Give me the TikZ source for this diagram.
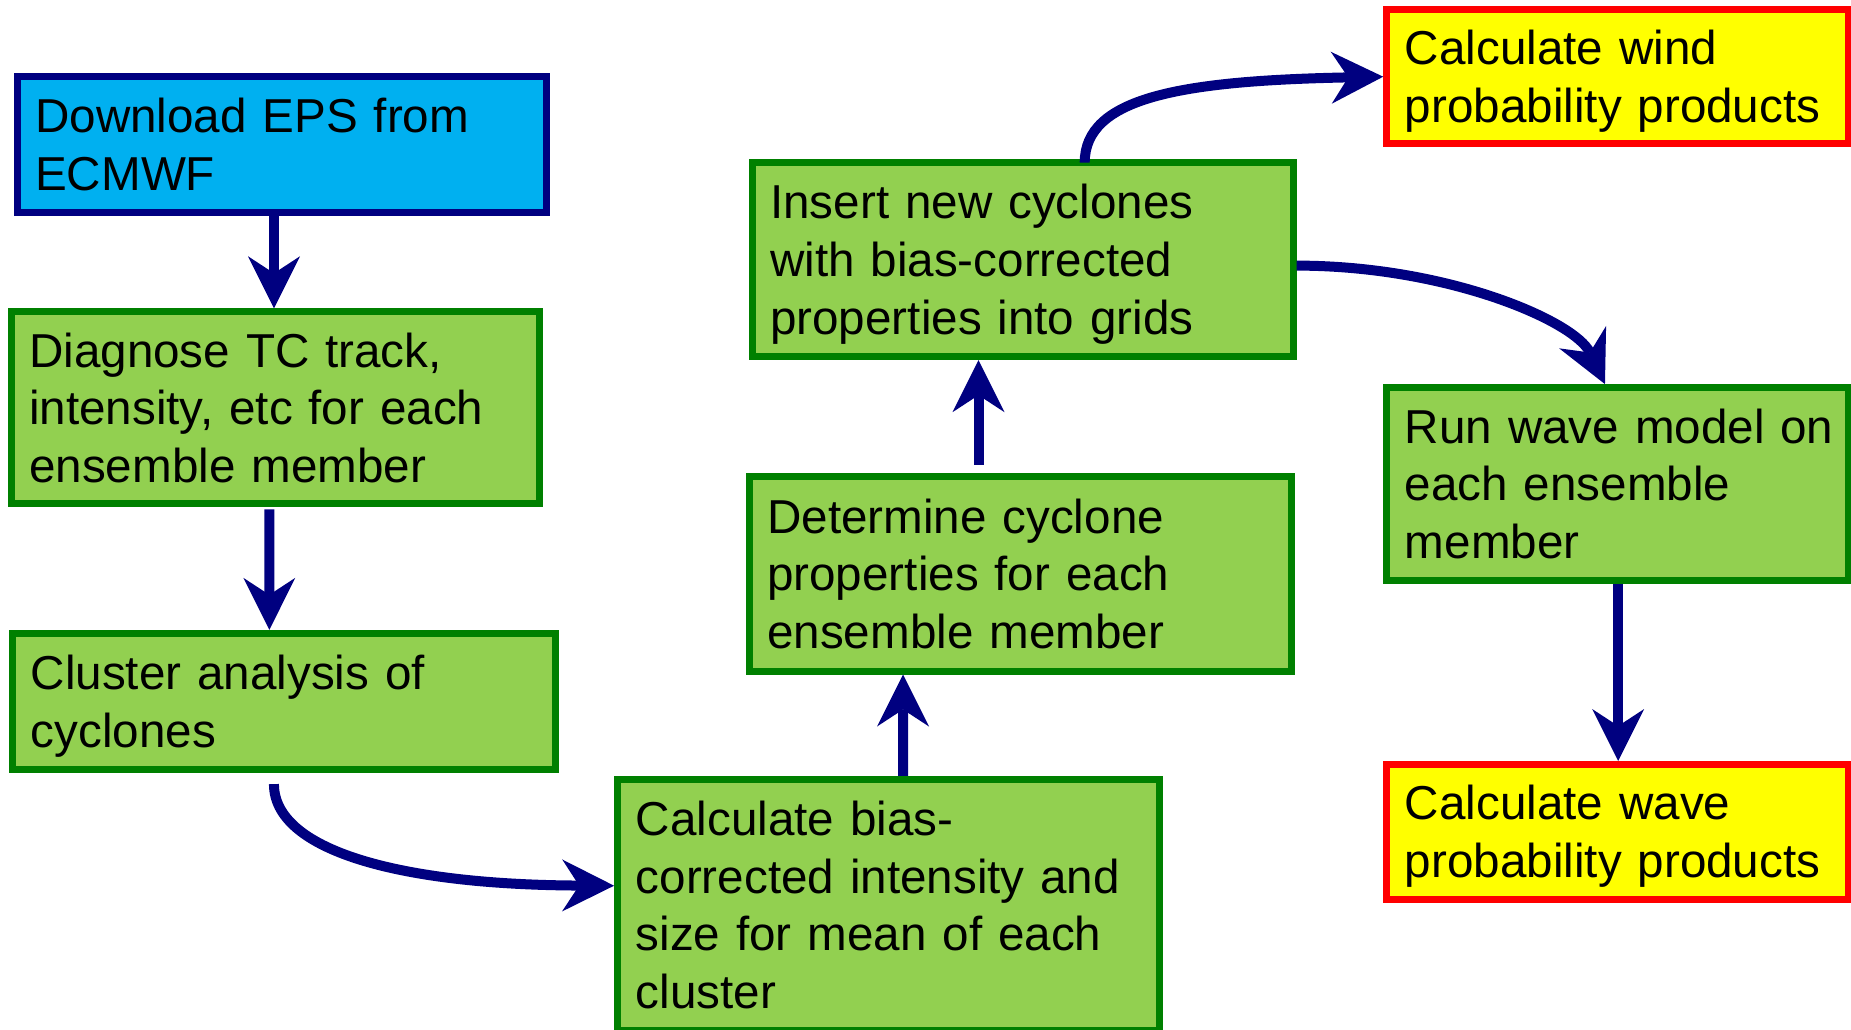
\documentclass[tikz,border=0pt]{standalone}
\usepackage{fontspec}
\setmainfont{Liberation Sans}
\usetikzlibrary{arrows.meta}
\definecolor{navyc}{HTML}{000080}
\definecolor{cyanc}{HTML}{00B0F0}
\definecolor{greenf}{HTML}{92D050}
\definecolor{greenb}{HTML}{008000}
\definecolor{yellowf}{HTML}{FFFF00}
\definecolor{redb}{HTML}{FF0000}
\begin{document}
\begin{tikzpicture}[x=0.5pt,y=-0.5pt,
  box/.style={draw, line width=3.5pt, rectangle, inner xsep=9.1pt, inner ysep=0pt,
    align=left, font=\fontsize{23.8}{28.9}\selectfont, text height=17pt, anchor=center},
  bluebox/.style={box, draw=navyc, fill=cyanc},
  greenbox/.style={box, draw=greenb, fill=greenf},
  yellowbox/.style={box, draw=redb, fill=yellowf},
  ltwo/.style={text depth=28.9pt},
  lthree/.style={text depth=57.8pt},
  lfour/.style={text depth=86.7pt},
  arr/.style={draw=navyc, line width=5pt,
    -{Stealth[length=26pt, width=26pt, inset=8.5pt, line width=0pt]}}
]
\useasboundingbox (0,0) rectangle (1851,1029);

\node[bluebox, ltwo, minimum width=264.75pt, minimum height=68.15pt, text width=246.55pt]
  (dl) at (281.8,144.8) {\mbox{Download EPS from}\\ECMWF};
\node[greenbox, lthree, minimum width=264.3pt, minimum height=96.05pt, text width=246.1pt]
  (diag) at (275.3,407.8) {\mbox{Diagnose TC track,}\\\mbox{intensity, etc for each}\\\mbox{ensemble member}};
\node[greenbox, ltwo, minimum width=271.25pt, minimum height=68.05pt, text width=253.05pt]
  (clus) at (283.75,701.35) {\mbox{Cluster analysis of}\\cyclones};
\node[greenbox, lfour, minimum width=271.1pt, minimum height=125.7pt, text width=252.9pt]
  (bias) at (888.7,905) {\mbox{Calculate bias-}\\\mbox{corrected intensity and}\\\mbox{size for mean of each}\\cluster};
\node[greenbox, lthree, minimum width=271pt, minimum height=97.2pt, text width=252.8pt]
  (det) at (1020,573.8) {\mbox{Determine cyclone}\\\mbox{properties for each}\\\mbox{ensemble member}};
\node[greenbox, lthree, minimum width=270.5pt, minimum height=97.2pt, text width=252.3pt]
  (ins) at (1022.5,259.5) {\mbox{Insert new cyclones}\\\mbox{with bias-corrected}\\\mbox{properties into grids}};
\node[yellowbox, ltwo, minimum width=230.65pt, minimum height=67.2pt, text width=212.45pt]
  (wind) at (1617.35,76.7) {\mbox{Calculate wind}\\\mbox{probability products}};
\node[greenbox, lthree, minimum width=230.65pt, minimum height=96.2pt, text width=212.45pt]
  (run) at (1617.35,483.8) {\mbox{Run wave model on}\\\mbox{each ensemble}\\member};
\node[yellowbox, ltwo, minimum width=230.65pt, minimum height=67.25pt, text width=212.45pt]
  (wave) at (1617.35,831.75) {\mbox{Calculate wave}\\\mbox{probability products}};

\draw[arr] ([xshift=-3.9pt]dl.south) -- ([xshift=-0.65pt]diag.north);
\draw[arr] ([xshift=-3pt,yshift=-1pt]diag.south) -- ([xshift=-7.2pt]clus.north);
\draw[arr] ([xshift=-4.9pt,yshift=-5.6pt]clus.south)
  .. controls +(0pt,-33pt) and +(-108pt,0.5pt) .. ([yshift=9.65pt]bias.west);
\draw[arr] ([xshift=7.15pt]bias.north) -- ([xshift=-58.5pt]det.south);
\draw[arr] ([xshift=-20.75pt,yshift=4.1pt]det.north) -- ([xshift=-22pt]ins.south);
\draw[arr] ([xshift=31.1pt,yshift=-1.9pt]ins.north)
  .. controls +(0pt,32.5pt) and +(-101.5pt,-2pt) .. (wind.west);
\draw[arr] ([yshift=-3.05pt]ins.east)
  .. controls +(75.5pt,0pt) and +(-15pt,31.5pt) .. ([xshift=-6.2pt]run.north);
\draw[arr] ([xshift=0.4pt]run.south) -- ([xshift=0.4pt]wave.north);
\end{tikzpicture}
\end{document}
